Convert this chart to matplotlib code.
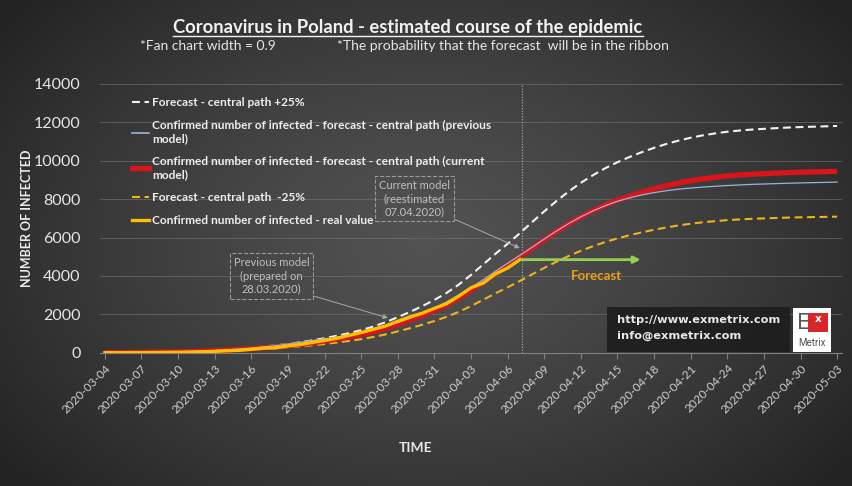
import numpy as np
import pandas as pd
import matplotlib
matplotlib.use("Agg")
import matplotlib.pyplot as plt
from matplotlib.lines import Line2D
from matplotlib.patches import Rectangle

plt.rcParams['font.family'] = ['Lato', 'DejaVu Sans']

# dates (category axis), one point per day
dates = pd.date_range("2020-03-04", "2020-05-03", freq="D").strftime("%Y-%m-%d").tolist()

# confirmed cases - real value (up to 2020-04-07)
real = [1, 1, 5, 6, 11, 17, 22, 31, 51, 68, 104, 125, 177, 238, 251, 355, 425, 536,
        634, 749, 901, 1051, 1221, 1389, 1638, 1862, 2055, 2311, 2554, 2946, 3383,
        3627, 4102, 4413, 4848]

# forecast - central path (current model)
current = [5, 8, 12, 17, 24, 33, 45, 60, 80, 105, 140, 170, 205, 255, 305, 365, 435,
           515, 605, 705, 815, 940, 1090, 1270, 1480, 1700, 1940, 2200, 2490, 2840,
           3240, 3680, 4120, 4540, 4980, 5440, 5890, 6320, 6720, 7080, 7400, 7690,
           7940, 8160, 8360, 8540, 8700, 8840, 8960, 9060, 9140, 9210, 9260, 9300,
           9330, 9360, 9385, 9405, 9420, 9435, 9450]

# forecast - central path (previous model)
previous = [5, 8, 12, 18, 26, 36, 50, 68, 90, 118, 150, 190, 240, 300, 370, 450, 540,
            630, 720, 810, 910, 1040, 1190, 1370, 1570, 1790, 2040, 2320, 2640, 3000,
            3390, 3800, 4240, 4660, 5070, 5490, 5920, 6340, 6730, 7080, 7390, 7660,
            7890, 8070, 8220, 8340, 8440, 8520, 8580, 8630, 8670, 8710, 8740, 8770,
            8790, 8810, 8830, 8845, 8860, 8875, 8890]

# forecast +25%
upper = [6, 10, 15, 21, 30, 41, 56, 75, 100, 131, 175, 213, 256, 319, 381, 456, 544,
         644, 756, 881, 1019, 1175, 1363, 1588, 1850, 2125, 2425, 2750, 3113, 3550,
         4050, 4600, 5150, 5675, 6225, 6800, 7363, 7900, 8400, 8850, 9250, 9613,
         9925, 10200, 10450, 10675, 10875, 11050, 11200, 11325, 11425, 11513, 11575,
         11625, 11663, 11700, 11731, 11756, 11775, 11794, 11813]

# forecast -25%
lower = [4, 6, 9, 13, 18, 25, 34, 45, 60, 79, 105, 128, 154, 191, 229, 274, 326, 386,
         454, 529, 611, 705, 818, 953, 1110, 1275, 1455, 1650, 1868, 2130, 2430, 2760,
         3090, 3405, 3735, 4080, 4418, 4740, 5040, 5310, 5550, 5768, 5955, 6120, 6270,
         6405, 6525, 6630, 6720, 6795, 6855, 6908, 6945, 6975, 6998, 7020, 7039, 7054,
         7065, 7076, 7088]

W, H = 852, 486
fig = plt.figure(figsize=(W / 100, H / 100), dpi=100)
fig.patch.set_facecolor('#333333')

# radial grey background
bg = fig.add_axes([0, 0, 1, 1], zorder=-10)
bg.axis('off')
gx, gy = np.meshgrid(np.linspace(0, 1, 300), np.linspace(0, 1, 200))
r = np.sqrt(((gx - 0.5) / 0.62) ** 2 + ((gy - 0.5) / 0.75) ** 2)
shade = 0.32 - 0.18 * np.clip(r, 0, 1) ** 1.3
bg.imshow(np.dstack([shade] * 3), extent=(0, 1, 0, 1), aspect='auto')
bg.set_xlim(0, 1)
bg.set_ylim(0, 1)

ax = fig.add_axes([100 / W, 1 - 352.7 / H, 742 / W, 268.7 / H])
ax.set_facecolor('none')
x = np.arange(len(dates))

ax.plot(x, upper, color='#f2f2f2', lw=1.5, ls=(0, (3.8, 2.2)), zorder=3)
ax.plot(x, lower, color='#f0b418', lw=1.5, ls=(0, (3.8, 2.2)), zorder=3)
ax.plot(x, current, color='#d9141b', lw=3.8, zorder=4, solid_capstyle='butt')
ax.plot(x, previous, color='#9fb3d9', lw=0.9, zorder=5)
ax.plot(x[:len(real)], real, color='#ffc000', lw=2.4, zorder=6)

ax.set_xlim(-0.4, len(dates) - 0.6)
ax.set_ylim(0, 14000)
ax.set_yticks(range(0, 14001, 2000))
ax.tick_params(axis='y', length=0, pad=14, labelsize=11.5, labelcolor='#e6e6e6')
ax.set_xticks(x[::3])
ax.set_xticklabels(dates[::3], rotation=45, ha='right', rotation_mode='anchor',
                   fontsize=8.5, color='#d0d0d0')
ax.tick_params(axis='x', length=4, color='#808080', pad=3)
ax.grid(axis='y', color='#6e6e6e', lw=0.7, alpha=0.7)
for s in ['top', 'right', 'left']:
    ax.spines[s].set_visible(False)
ax.spines['bottom'].set_color('#808080')
ax.spines['bottom'].set_linewidth(0.8)

# legend
handles = [
    Line2D([], [], color='#f2f2f2', lw=1.5, ls=(0, (3.8, 2.2))),
    Line2D([], [], color='#9fb3d9', lw=1.2),
    Line2D([], [], color='#d9141b', lw=3.8),
    Line2D([], [], color='#f0b418', lw=1.5, ls=(0, (3.8, 2.2))),
    Line2D([], [], color='#ffc000', lw=2.4),
]
labels = [
    "Forecast - central path +25%",
    "Confirmed number of infected - forecast - central path (previous\nmodel)",
    "Confirmed number of infected - forecast - central path (current\nmodel)",
    "Forecast - central path  -25%",
    "Confirmed number of infected - real value",
]
ax.legend(handles, labels, loc='upper left', bbox_to_anchor=(0.028, 0.99),
          frameon=False, labelcolor='#eeeeee', handlelength=1.5,
          handletextpad=0.2, labelspacing=1.0,
          prop={'weight': 'bold', 'size': 8.6})

# forecast start line and arrow
ax.axvline(34.15, color='#b0b0b0', lw=0.8, ls=(0, (1, 1.5)), zorder=2)
ax.annotate('', xy=(43.9, real[-1]), xytext=(34.15, real[-1]),
            arrowprops=dict(arrowstyle='-|>', color='#92d050', lw=2.0,
                            mutation_scale=10, shrinkA=0, shrinkB=0), zorder=7)
ax.text(40.3, 4000, 'Forecast', color='#e8a317', fontsize=9.5, fontweight='bold',
        ha='center', va='center')

box = dict(boxstyle='square,pad=0.35', fc='none', ec='#9a9a9a', ls='--', lw=0.8)
arrow = dict(arrowstyle='-|>', color='#a8a8a8', lw=0.7, mutation_scale=7,
             shrinkA=0, shrinkB=0, relpos=(1, 0))
ax.annotate('Previous model\n(prepared on\n28.03.2020)', xy=(23.2, 1810),
            xytext=(271.5 / W, 1 - 276 / H), textcoords='figure fraction',
            ha='center', va='center', fontsize=8, color='#bfbfbf',
            bbox=box, arrowprops=arrow, linespacing=1.25)
ax.annotate('Current model\n(reestimated\n07.04.2020)', xy=(34.0, 5450),
            xytext=(414.5 / W, 1 - 198.5 / H), textcoords='figure fraction',
            ha='center', va='center', fontsize=8, color='#bfbfbf',
            bbox=box, arrowprops=arrow, linespacing=1.25)

# titles
title = fig.text(408 / W, 1 - 27 / H, 'Coronavirus in Poland - estimated course of the epidemic',
                 ha='center', va='center', fontsize=13.2, fontweight='bold', color='#f2f2f2')
fig.text(140 / W, 1 - 46 / H, '*Fan chart width = 0.9', ha='left', va='center',
         fontsize=10, color='#e6e6e6')
fig.text(337 / W, 1 - 46 / H, '*The probability that the forecast  will be in the ribbon',
         ha='left', va='center', fontsize=10, color='#e6e6e6')
fig.text(27 / W, 1 - 218 / H, 'NUMBER OF INFECTED', rotation=90, ha='center',
         va='center', fontsize=9, fontweight='bold', color='#eeeeee')
fig.text(416 / W, 1 - 448 / H, 'TIME', ha='center', va='center', fontsize=10,
         fontweight='bold', color='#e6e6e6')

# underline the title
fig.canvas.draw()
bb = title.get_window_extent().transformed(fig.transFigure.inverted())
fig.add_artist(Line2D([bb.x0, bb.x1], [bb.y0 - 0.002, bb.y0 - 0.002], color='#f2f2f2',
                      lw=1.0, transform=fig.transFigure))

# exmetrix box and logo
fig.add_artist(Rectangle((607 / W, 1 - 352 / H), 183 / W, 45 / H, transform=fig.transFigure,
                         fc='#1e1e1e', ec='none', alpha=0.92, zorder=8))
fig.text(617 / W, 1 - 320 / H, 'http://www.exmetrix.com', ha='left', va='center',
         fontsize=8.2, fontweight='bold', color='#e8e8e8', family='DejaVu Sans', zorder=9)
fig.text(617 / W, 1 - 336 / H, 'info@exmetrix.com', ha='left', va='center',
         fontsize=8.2, fontweight='bold', color='#e8e8e8', family='DejaVu Sans', zorder=9)
fig.add_artist(Rectangle((793 / W, 1 - 352 / H), 38 / W, 44 / H, transform=fig.transFigure,
                         fc='white', ec='none', zorder=8))
fig.add_artist(Rectangle((808 / W, 1 - 332 / H), 20 / W, 19 / H, transform=fig.transFigure,
                         fc='#d9262b', ec='none', zorder=9))
fig.text(797 / W, 1 - 323 / H, 'E', ha='left', va='center', fontsize=15,
         color='#595959', family='DejaVu Sans', zorder=10)
fig.text(818 / W, 1 - 319 / H, 'x', ha='center', va='center', fontsize=7.5,
         fontweight='bold', color='white', family='DejaVu Sans', zorder=10)
fig.text(812 / W, 1 - 343 / H, 'Metrix', ha='center', va='center', fontsize=7,
         color='#505050', family='Roboto', zorder=10)

fig.savefig('out.png', dpi=100, facecolor=fig.get_facecolor())
